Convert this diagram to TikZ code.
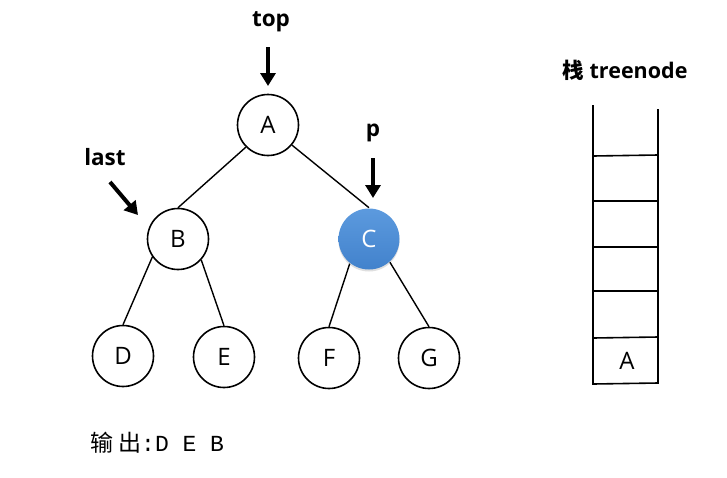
\documentclass[tikz,border=0pt]{standalone}
\usepackage{fontspec}
\setmainfont{Open Sans}
\newfontfamily\cjk{Noto Sans CJK SC}
\newfontfamily\monof{Liberation Mono}
\usetikzlibrary{arrows.meta,shadows}
\definecolor{ctop}{RGB}{92,154,222}
\definecolor{cbot}{RGB}{66,130,204}
\tikzset{
  tn/.style={circle,draw=black,line width=1.6pt,minimum size=61pt,inner sep=0pt,font=\fontsize{24}{24}\selectfont},
  edge/.style={line width=1.4pt},
  ptr/.style={line width=4pt,-{Triangle[length=13pt,width=15pt]}},
  lbl/.style={font=\bfseries\fontsize{22.5}{22.5}\selectfont},
  stk/.style={line width=1.6pt}
}
\begin{document}
\begin{tikzpicture}[x=1pt,y=-1pt]
\useasboundingbox (0,0) rectangle (727,477);
\fill[white] (0,0) rectangle (727,477);
% tree nodes
\node[tn] (A) at (268,125) {\raisebox{-2pt}{A}};
\node[tn] (B) at (178,239) {\raisebox{-2pt}{B}};
\node[tn,draw=none,top color=ctop,bottom color=cbot,text=white,
      drop shadow={shadow xshift=0pt,shadow yshift=-2pt,opacity=0.25}] (C) at (369,239) {\raisebox{-2pt}{C}};
\node[tn] (D) at (123,356) {D};
\node[tn] (E) at (224,357) {\raisebox{-3pt}{E}};
\node[tn] (F) at (329,358) {\raisebox{-2pt}{F}};
\node[tn] (G) at (429,358) {\raisebox{-2pt}{G}};
% edges
\draw[edge] (A.225) -- (B.north);
\draw[edge] (A.-40) -- (C.north);
\draw[edge] (B.215) -- (D.north);
\draw[edge] (B.-42) -- (E.north);
\draw[edge] (C.-128) -- (F.north);
\draw[edge] (C.-48) -- (G.north);
% pointers
\node[lbl] (ltop) at (271,22) {top};
\coordinate (ttop) at (268,47);
\coordinate (htop) at (268,86);
\draw[ptr] (ttop) -- (htop);
\node[lbl] (lp) at (373,133) {p};
\coordinate (tp) at (373,158);
\coordinate (hp) at (373,198);
\draw[ptr] (tp) -- (hp);
\node[lbl] (llast) at (105,157) {last};
\coordinate (tl) at (110,182);
\coordinate (hl) at (138,215);
\draw[ptr] (tl) -- (hl);
% stack
\node[font=\bfseries\fontsize{21.5}{21.5}\selectfont] (stt) at (625,70) {{\cjk 栈} treenode};
\coordinate (sl0) at (593,105);
\coordinate (sr0) at (658,109);
\coordinate (sl1) at (593,384);
\coordinate (sr1) at (658,383);
\draw[stk] (sl0) -- (sl1) -- (sr1) -- (sr0);
\foreach \y/\yy in {156/155,201/201,247/247,291/291,338/337}{
  \draw[stk] (593,\y) -- (658,\yy);
}
\node[font=\fontsize{24}{24}\selectfont] (sa) at (627,361) {A};
% output
\node[anchor=west,inner sep=0pt] (out) at (90,443) {{\cjk\fontsize{23}{23}\selectfont 输\hspace{5pt}出}{\monof\fontsize{23}{23}\selectfont :D E B}};
\end{tikzpicture}
\end{document}
